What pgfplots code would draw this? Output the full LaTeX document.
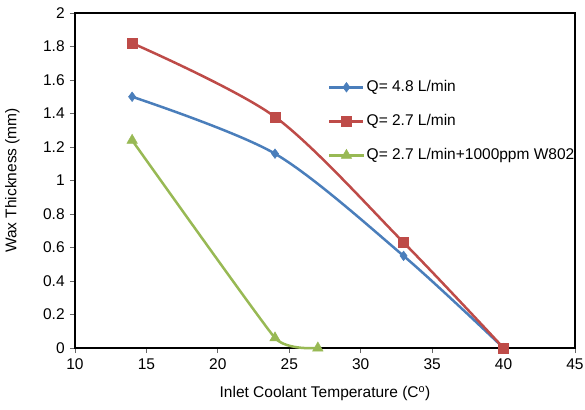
\documentclass[border=0pt]{standalone}
\usepackage{pgfplots}
\pgfplotsset{compat=1.18}
\usepackage{fontspec}
\setmainfont{Liberation Sans}
\definecolor{cblue}{HTML}{4A7EBB}
\definecolor{cred}{HTML}{BE4B48}
\definecolor{cgreen}{HTML}{98B954}
\begin{document}
\fontsize{15.5bp}{18bp}\selectfont
\begin{tikzpicture}
\path[use as bounding box] (0,0) rectangle (585bp,410bp);
\begin{axis}[
  at={(75bp,62bp)}, anchor=south west,
  scale only axis, width=500bp, height=335bp,
  xmin=10, xmax=45, ymin=0, ymax=2,
  xtick={10,15,...,45}, ytick={0,0.2,...,2},
  /pgf/number format/assume math mode=true,
  yticklabel style={/pgf/number format/fixed,/pgf/number format/precision=1},
  tick align=outside, tick pos=left,
  major tick length=5bp,
  tick style={black!60, line width=0.8bp},
  axis line style={black, line width=1.2bp},
  xlabel={Inlet Coolant Temperature (C\textsuperscript{o})},
  ylabel={Wax Thickness (mm)},
  xlabel style={at={(rel axis cs:0.5,0)}, anchor=north, yshift=-33bp},
  ylabel style={at={(rel axis cs:0,0.5)}, anchor=south, yshift=50bp},
  clip=false,
  legend cell align=left,
  legend style={draw=none, fill=none, at={(rel axis cs:0.506,0.805)}, anchor=north west,
    row sep=16.5bp, inner sep=0pt, font=\fontsize{15.5bp}{18bp}\selectfont},
  legend image code/.code={\draw[mark repeat=2,mark phase=2,#1] plot coordinates {(0bp,0bp)(17bp,0bp)(34bp,0bp)};},
  every axis plot/.append style={line width=2.5bp, smooth, tension=0.5},
]
\addplot[cblue, mark=diamond*, mark size=4.8bp, mark options={solid,fill=cblue,line width=0.5bp}] coordinates {(14,1.5) (24,1.16) (33,0.55) (40,0)};
\addlegendentry{Q= 4.8 L/min}
\addplot[cred, mark=square*, mark size=5bp, mark options={solid,fill=cred,line width=0.5bp}] coordinates {(14,1.82) (24,1.38) (33,0.63) (40,0)};
\addlegendentry{Q= 2.7 L/min}
\addplot[cgreen, tension=0.22, mark=triangle*, mark size=6bp, mark options={solid,fill=cgreen,line width=0.5bp}] coordinates {(14,1.24) (24,0.06) (27,0)};
\addlegendentry{Q= 2.7 L/min+1000ppm W802}
\end{axis}
\end{tikzpicture}
\end{document}
